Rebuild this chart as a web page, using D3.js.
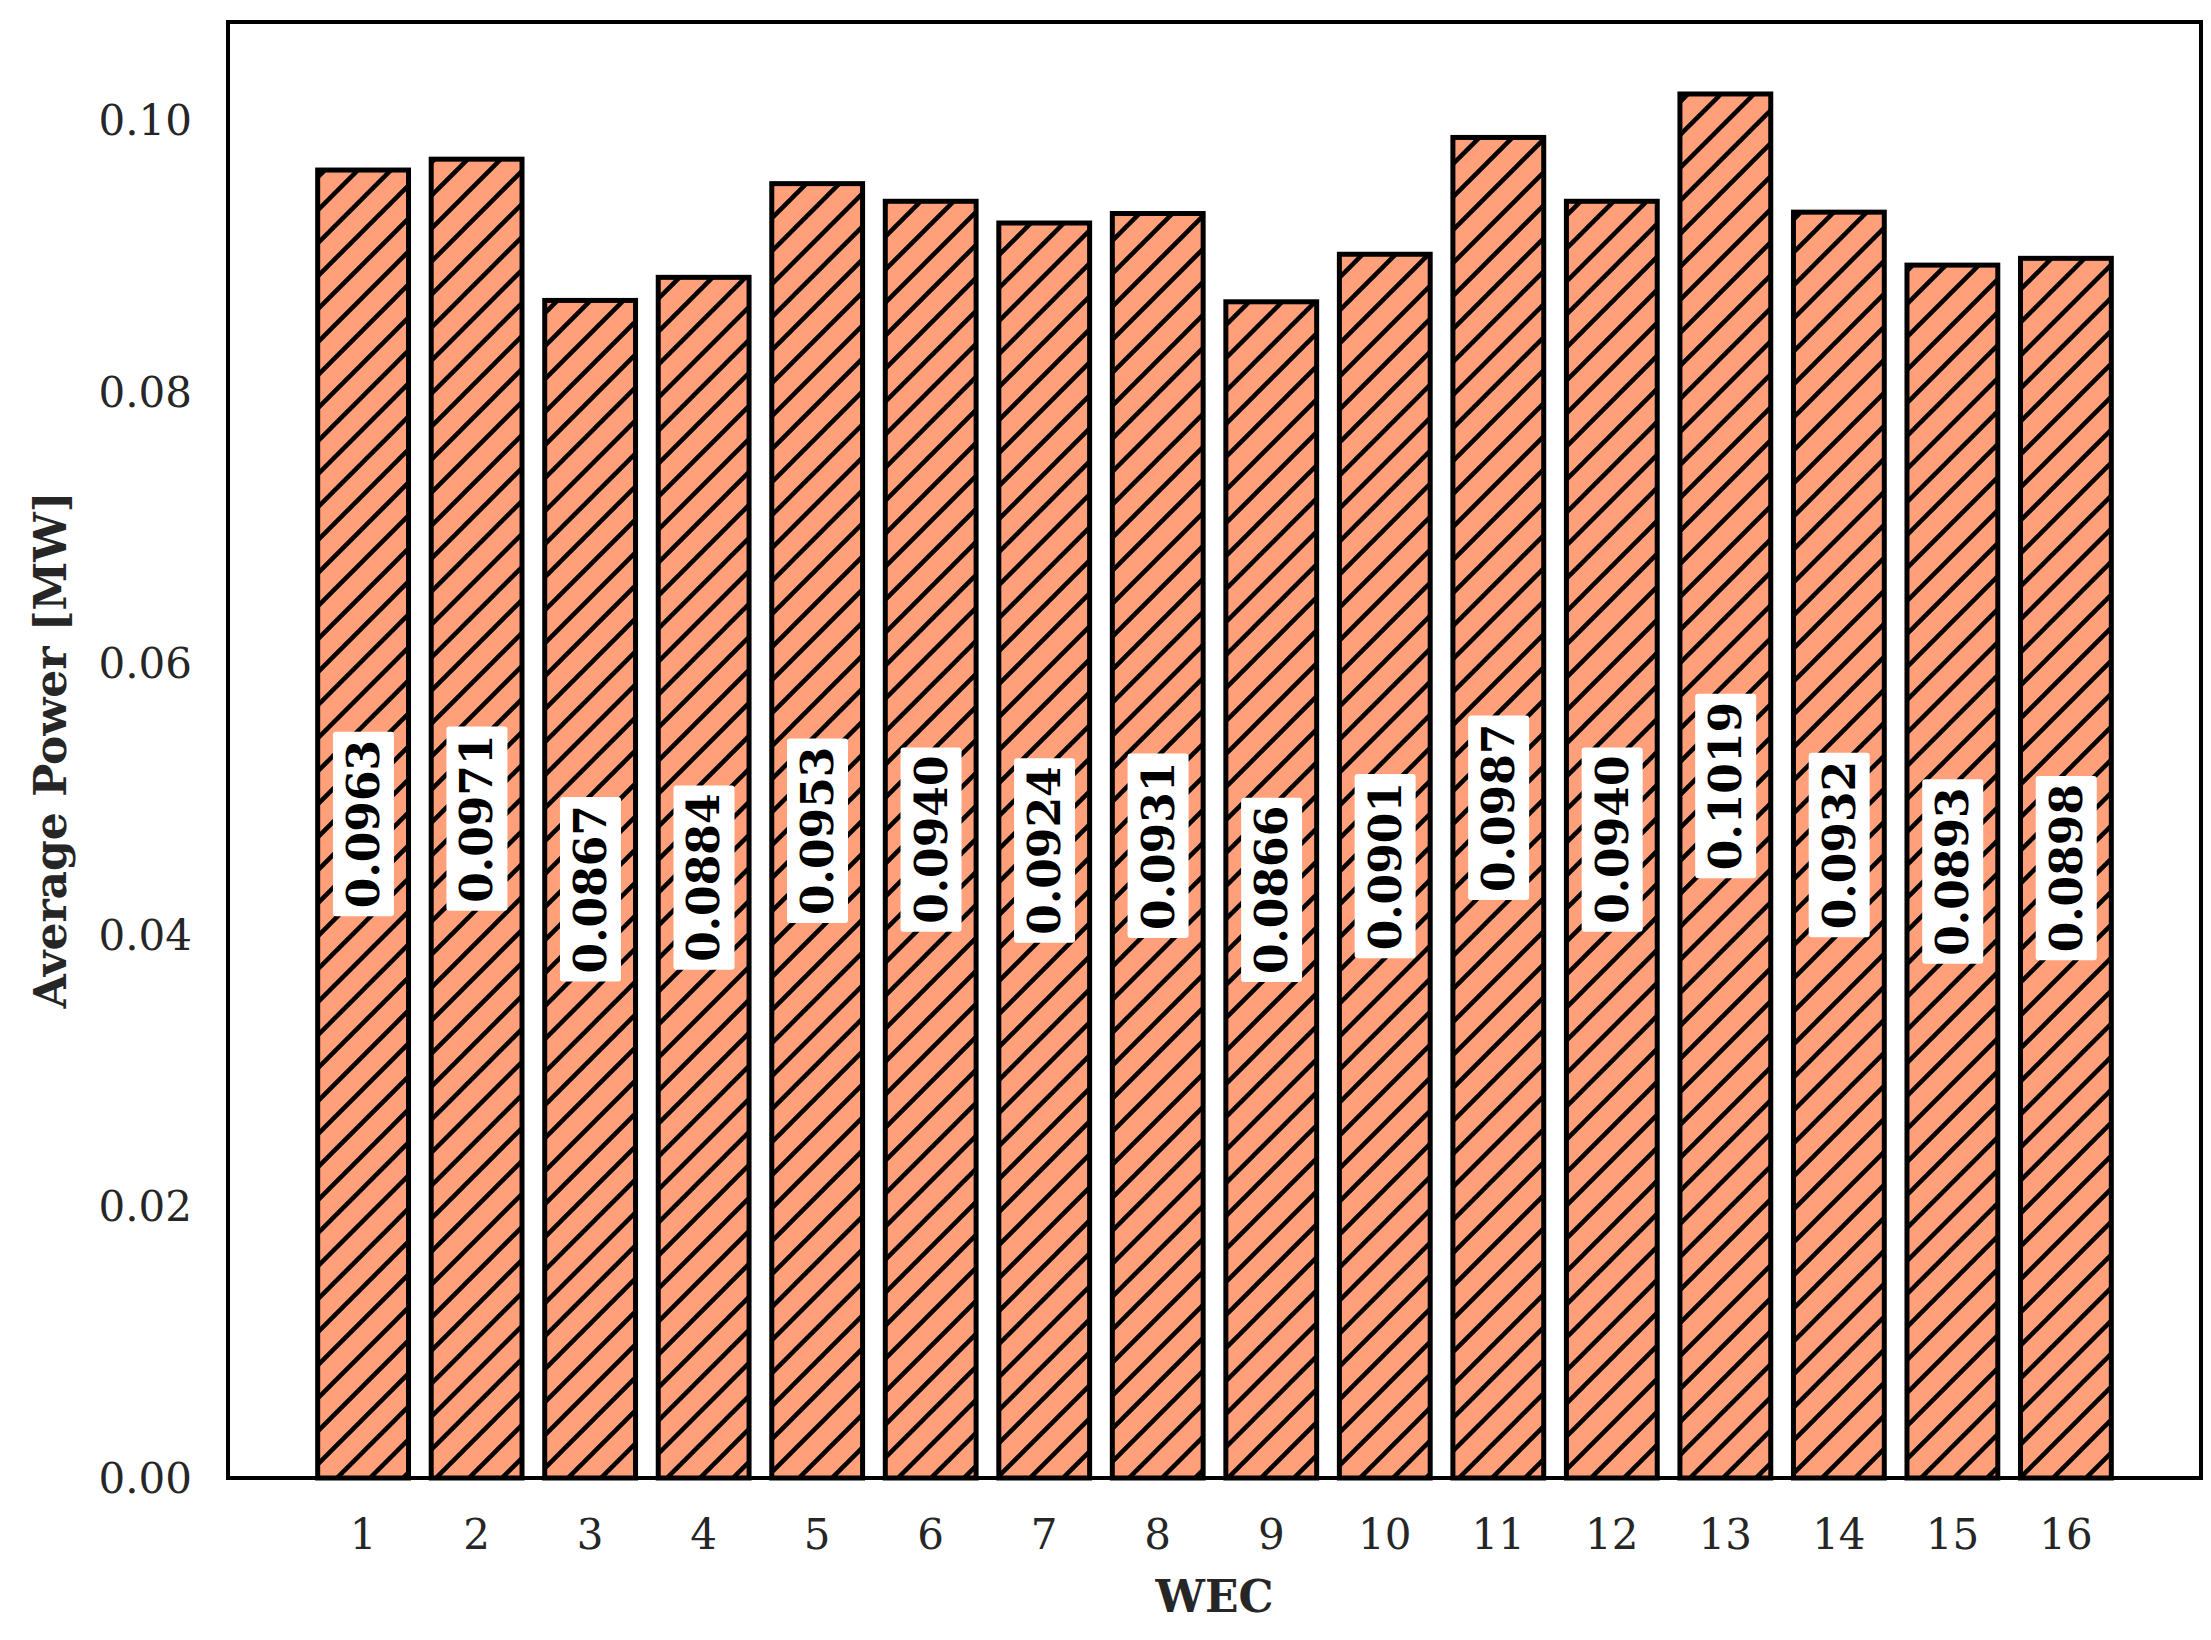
<!DOCTYPE html>
<html>
<head>
<meta charset="utf-8">
<script src="https://cdn.jsdelivr.net/npm/d3@7"></script>
<style>
  body { margin: 0; background: #fff; }
  text { font-family: "DejaVu Serif", serif; }
</style>
</head>
<body>
<svg id="chart" width="2211" height="1640"></svg>
<script>
// average power per WEC
var wecs = [1, 2, 3, 4, 5, 6, 7, 8, 9, 10, 11, 12, 13, 14, 15, 16];
var powers = [0.0963, 0.0971, 0.0867, 0.0884, 0.0953, 0.0940, 0.0924, 0.0931,
              0.0866, 0.0901, 0.0987, 0.0940, 0.1019, 0.0932, 0.0893, 0.0898];
var yTicks = [0.00, 0.02, 0.04, 0.06, 0.08, 0.10];

var svg = d3.select('#chart');
var mLeft = 228, mRight = 2201, mTop = 22, mBottom = 1478;

var x = d3.scaleLinear().domain([-0.19, 17.19]).range([mLeft, mRight]);
var y = d3.scaleLinear().domain([0, 0.1072]).range([mBottom, mTop]);
var barW = x(1.8) - x(1);

// hatch pattern
var defs = svg.append('defs');
var pat = defs.append('pattern').attr('id', 'hatch').attr('patternUnits', 'userSpaceOnUse')
  .attr('width', 33).attr('height', 33);
pat.append('rect').attr('width', 33).attr('height', 33).attr('fill', '#ffa07a');
pat.append('path').attr('d', 'M-8,8 L8,-8 M0,33 L33,0 M25,41 L41,25')
  .attr('stroke', '#000').attr('stroke-width', 4.5);

var g = svg.append('g');
g.selectAll('rect.bar').data(powers).enter().append('rect')
  .attr('class', 'bar')
  .attr('x', function(d, i) { return x(wecs[i]) - barW / 2; })
  .attr('y', function(d) { return y(d); })
  .attr('width', barW)
  .attr('height', function(d) { return y(0) - y(d); })
  .attr('fill', 'url(#hatch)').attr('stroke', '#000').attr('stroke-width', 5);

// value labels, rotated, with white box
powers.forEach(function(d, i) {
  var cx = x(wecs[i]), cy = y(d / 2);
  var lg = g.append('g').attr('transform', 'translate(' + cx + ',' + cy + ') rotate(-90)');
  var t = lg.append('text').text(d.toFixed(4))
    .attr('text-anchor', 'middle').attr('dy', '0.36em')
    .attr('font-size', 44).attr('font-weight', 'bold').attr('fill', '#000');
  var bb = t.node().getBBox();
  lg.insert('rect', 'text').attr('x', bb.x - 8).attr('y', bb.y - 5)
    .attr('width', bb.width + 16).attr('height', bb.height + 10)
    .attr('rx', 3).attr('fill', '#fff');
});

// frame
svg.append('rect').attr('x', mLeft).attr('y', mTop).attr('width', mRight - mLeft).attr('height', mBottom - mTop)
  .attr('fill', 'none').attr('stroke', '#000').attr('stroke-width', 4);

// y ticks
svg.selectAll('text.yt').data(yTicks).enter().append('text')
  .attr('class', 'yt').attr('x', mLeft - 36).attr('y', function(d) { return y(d); })
  .attr('dy', '0.36em').attr('text-anchor', 'end').attr('font-size', 42).attr('fill', '#262626')
  .text(function(d) { return d.toFixed(2); });

// x ticks
svg.selectAll('text.xt').data(wecs).enter().append('text')
  .attr('class', 'xt').attr('x', function(d) { return x(d); }).attr('y', 1549)
  .attr('text-anchor', 'middle').attr('font-size', 42).attr('fill', '#262626')
  .text(function(d) { return d; });

svg.append('text').attr('x', (mLeft + mRight) / 2).attr('y', 1612).attr('text-anchor', 'middle')
  .attr('font-size', 44).attr('font-weight', 'bold').attr('fill', '#262626').text('WEC');

svg.append('text').attr('transform', 'translate(66,' + 750 + ') rotate(-90)')
  .attr('text-anchor', 'middle').attr('font-size', 44).attr('font-weight', 'bold').attr('fill', '#262626')
  .text('Average Power [MW]');
</script>
</body>
</html>
